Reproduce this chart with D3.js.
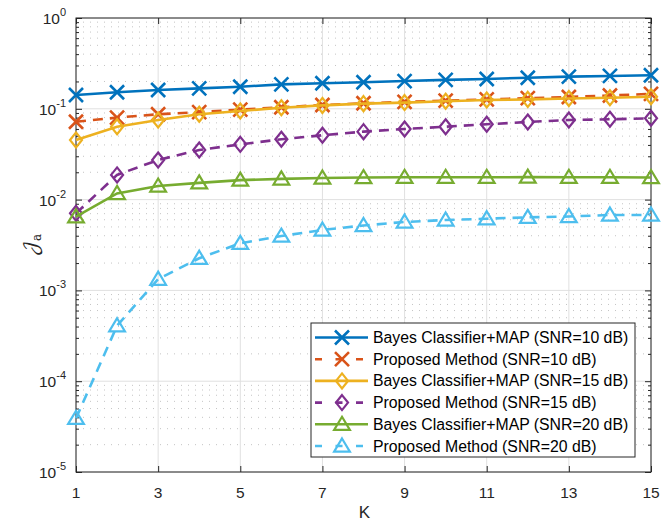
<!DOCTYPE html>
<html><head><meta charset="utf-8">
<script src="https://cdn.jsdelivr.net/npm/d3@7"></script>
<style>body{margin:0;background:#fff;} svg{display:block;font-family:"Liberation Sans",Arial,sans-serif;}</style>
</head><body><svg id="c" width="662" height="523"></svg>
<script>
const K = [1,2,3,4,5,6,7,8,9,10,11,12,13,14,15];
const bayes10 = [0.142,0.152,0.161,0.168,0.175,0.186,0.191,0.196,0.202,0.208,0.213,0.220,0.226,0.230,0.234];
const prop10  = [0.072,0.080,0.087,0.092,0.098,0.104,0.110,0.115,0.119,0.123,0.127,0.131,0.135,0.140,0.146];
const bayes15 = [0.0453,0.0635,0.0753,0.087,0.0946,0.1028,0.109,0.114,0.117,0.121,0.125,0.127,0.130,0.1325,0.136];
const prop15  = [0.00706,0.0187,0.0273,0.0352,0.0406,0.0462,0.0511,0.0560,0.0599,0.0635,0.0675,0.0716,0.0753,0.0766,0.0786];
const bayes20 = [0.00648,0.0117,0.0141,0.0153,0.0164,0.0169,0.0173,0.0175,0.0176,0.0176,0.0176,0.0177,0.0176,0.0176,0.0175];
const prop20  = [3.9e-5,4.08e-4,1.33e-3,2.26e-3,3.30e-3,3.97e-3,4.63e-3,5.19e-3,5.67e-3,5.96e-3,6.16e-3,6.38e-3,6.52e-3,6.77e-3,6.77e-3];
const seriesNames = ["Bayes Classifier+MAP (SNR=10 dB)","Proposed Method (SNR=10 dB)","Bayes Classifier+MAP (SNR=15 dB)","Proposed Method (SNR=15 dB)","Bayes Classifier+MAP (SNR=20 dB)","Proposed Method (SNR=20 dB)"];
const xTicks = [1,3,5,7,9,11,13,15];
const yTickExps = [0,-1,-2,-3,-4,-5];

const colors = ["#0072BD","#D95319","#EDB120","#7E2F8E","#77AC30","#4DBEEE"];
const markers = ["x","x","diamond","diamond","triangle","triangle"];
const dashed = [false,true,false,true,false,true];
const data = [bayes10,prop10,bayes15,prop15,bayes20,prop20];

const svg = d3.select("#c");
const L=76, R=651, T=18, B=472;
const x = d3.scaleLinear().domain([1,15]).range([L,R]);
const y = d3.scaleLog().domain([1e-5,1]).range([B,T]);
const axisCol = "#262626";

// minor grid
const minor = [];
for (let e=-5;e<0;e++) for (let m=2;m<=9;m++) minor.push(m*Math.pow(10,e));
svg.append("g").selectAll("line").data(minor).join("line")
  .attr("x1",L).attr("x2",R).attr("y1",d=>y(d)).attr("y2",d=>y(d))
  .attr("stroke","#c4c4c4").attr("stroke-width",1).attr("stroke-dasharray","1,6");
// major grid
svg.append("g").selectAll("line").data(yTickExps.map(e=>Math.pow(10,e))).join("line")
  .attr("x1",L).attr("x2",R).attr("y1",d=>y(d)).attr("y2",d=>y(d))
  .attr("stroke","#e0e0e0").attr("stroke-width",1);
svg.append("g").selectAll("line").data(xTicks).join("line")
  .attr("x1",d=>x(d)).attr("x2",d=>x(d)).attr("y1",T).attr("y2",B)
  .attr("stroke","#e0e0e0").attr("stroke-width",1);

// axes with inward ticks
const yMajorVals = yTickExps.map(e=>Math.pow(10,e));
const fmtNone = ()=>"";
function styleAx(g){g.select(".domain").remove();g.selectAll("line").attr("stroke",axisCol);}
svg.append("g").attr("transform",`translate(${L},0)`)
  .call(d3.axisRight(y).tickValues(minor).tickSize(3).tickFormat(fmtNone)).call(styleAx);
svg.append("g").attr("transform",`translate(${R},0)`)
  .call(d3.axisLeft(y).tickValues(minor).tickSize(3).tickFormat(fmtNone)).call(styleAx);
svg.append("g").attr("transform",`translate(${L},0)`)
  .call(d3.axisRight(y).tickValues(yMajorVals).tickSize(6).tickFormat(fmtNone)).call(styleAx);
svg.append("g").attr("transform",`translate(${R},0)`)
  .call(d3.axisLeft(y).tickValues(yMajorVals).tickSize(6).tickFormat(fmtNone)).call(styleAx);
svg.append("g").attr("transform",`translate(0,${B})`)
  .call(d3.axisTop(x).tickValues(xTicks).tickSize(6).tickFormat(fmtNone)).call(styleAx);
svg.append("g").attr("transform",`translate(0,${T})`)
  .call(d3.axisBottom(x).tickValues(xTicks).tickSize(6).tickFormat(fmtNone)).call(styleAx);
svg.append("rect").attr("x",L).attr("y",T).attr("width",R-L).attr("height",B-T)
  .attr("fill","none").attr("stroke",axisCol).attr("stroke-width",1);

// tick labels
svg.append("g").selectAll("text").data(xTicks).join("text")
  .attr("x",d=>x(d)).attr("y",B+26).attr("text-anchor","middle")
  .attr("font-size",15.5).attr("fill",axisCol).text(d=>d);
const yl = svg.append("g").selectAll("text").data(yTickExps).join("text")
  .attr("x",L-10).attr("y",d=>y(Math.pow(10,d))+6).attr("text-anchor","end")
  .attr("font-size",15.5).attr("fill",axisCol);
yl.append("tspan").text("10");
yl.append("tspan").attr("dy",-8).attr("font-size",11).text(d=>d);

// axis labels
svg.append("text").attr("x",(L+R)/2+1).attr("y",518).attr("text-anchor","middle")
  .attr("font-size",17).attr("fill",axisCol).text("K");
const ylab = svg.append("text").attr("transform",`translate(37,${(T+B)/2}) rotate(-90)`)
  .attr("text-anchor","middle").attr("fill",axisCol);
ylab.append("tspan").attr("font-size",19).attr("font-family","'DejaVu Math TeX Gyre','DejaVu Serif',serif").text("𝒥");
ylab.append("tspan").attr("font-size",12).attr("dy",4).attr("font-family","'DejaVu Serif',serif").text("a");

// marker drawing
function drawMarker(g, type, cx, cy, col){
  if(type==="x"){
    const s=7;
    g.append("path").attr("d",`M${cx-s},${cy-s}L${cx+s},${cy+s}M${cx-s},${cy+s}L${cx+s},${cy-s}`)
      .attr("stroke",col).attr("stroke-width",2.6).attr("fill","none");
  } else if(type==="diamond"){
    const s=7.5;
    g.append("path").attr("d",`M${cx},${cy-s}L${cx+s*0.8},${cy}L${cx},${cy+s}L${cx-s*0.8},${cy}Z`)
      .attr("stroke",col).attr("stroke-width",2.2).attr("fill","none");
  } else {
    const s=7.5;
    g.append("path").attr("d",`M${cx},${cy-s}L${cx+s*1.05},${cy+s*0.75}L${cx-s*1.05},${cy+s*0.75}Z`)
      .attr("stroke",col).attr("stroke-width",2.2).attr("fill","none");
  }
}

const line = d3.line().x((d,i)=>x(K[i])).y(d=>y(d));
const plot = svg.append("g");
data.forEach((vals,si)=>{
  const g = plot.append("g");
  g.append("path").attr("d",line(vals)).attr("fill","none").attr("stroke",colors[si])
    .attr("stroke-width",2.6).attr("stroke-dasharray",dashed[si]?"10,7":null);
  vals.forEach((v,i)=>drawMarker(g,markers[si],x(K[i]),y(v),colors[si]));
});

// legend
const lg = svg.append("g");
lg.append("rect").attr("x",311).attr("y",323).attr("width",324).attr("height",134)
  .attr("fill","#fff").attr("stroke",axisCol).attr("stroke-width",1);
seriesNames.forEach((nm,i)=>{
  const cy = 337.5 + i*21.7;
  lg.append("line").attr("x1",315).attr("x2",368).attr("y1",cy).attr("y2",cy)
    .attr("stroke",colors[i]).attr("stroke-width",2.6).attr("stroke-dasharray",dashed[i]?"7,13.5":null);
  drawMarker(lg,markers[i],342,cy,colors[i]);
  lg.append("text").attr("x",373).attr("y",cy+5.5).attr("font-size",15.8).attr("fill","#000")
    .attr("textLength",null).text(nm);
});
</script></body></html>
